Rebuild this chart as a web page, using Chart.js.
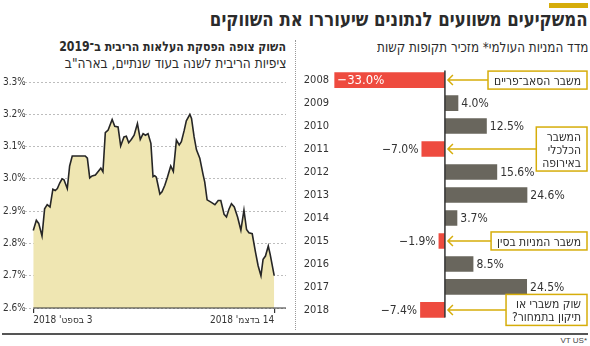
<!DOCTYPE html>
<html lang="he">
<head>
<meta charset="utf-8">
<script src="https://cdn.jsdelivr.net/npm/chart.js@4.4.1/dist/chart.umd.min.js"></script>
<style>
  body { margin:0; width:590px; height:346px; background:#fff; position:relative; overflow:hidden;
         font-family:"DejaVu Sans Condensed","Liberation Sans",sans-serif; color:#2b2b2b; }
  .abs { position:absolute; white-space:nowrap; }
  .rtl { direction:rtl; }
  #goldbar { left:549px; top:3px; width:39px; height:5px; background:#d6ad0a; }
  #title { right:2px; top:7px; font-size:20px; font-weight:bold; transform:scaleX(0.92); transform-origin:right center; }
  #subR { right:2px; top:39px; font-size:14px; transform:scaleX(0.95); transform-origin:right center; }
  #subL { right:304px; top:38px; font-size:13.5px; font-weight:bold; transform:scaleX(0.9); transform-origin:right center; }
  #subL2 { right:304px; top:55px; font-size:14px; transform:scaleX(0.97); transform-origin:right center; }
  #sep { left:295px; top:40px; height:290px; border-left:1px dotted #999; }
  #baseline { left:2px; top:333px; width:586px; height:2px; background:#555; }
  #src { right:3px; top:336px; font-size:8px; color:#444; font-family:"Liberation Sans",sans-serif; }
  #leftWrap { left:0; top:66px; width:292px; height:266px; }
  #rightWrap { left:298px; top:60px; width:292px; height:270px; }
  #lineChart { direction:rtl; }
</style>
</head>
<body>
<div id="goldbar" class="abs"></div>
<div id="title" class="abs rtl">המשקיעים משוועים לנתונים שיעוררו את השווקים</div>
<div id="subR" class="abs rtl">מדד המניות העולמי* מזכיר תקופות קשות</div>
<div id="subL" class="abs rtl">השוק צופה הפסקת העלאות הריבית ב־2019</div>
<div id="subL2" class="abs rtl">ציפיות הריבית לשנה בעוד שנתיים, בארה"ב</div>
<div id="sep" class="abs"></div>
<div id="leftWrap" class="abs"><canvas id="lineChart" width="292" height="266"></canvas></div>
<div id="rightWrap" class="abs"><canvas id="barChart" width="292" height="270"></canvas></div>
<div id="baseline" class="abs"></div>
<div id="src" class="abs">VT US*</div>

<script>
// ריבית צפויה - ימים מ-3 בספטמבר 2018
const rateDays = [0, 1.3, 2.3, 3.7, 4.8, 5.9, 7.1, 8.3, 9.3, 10.2, 11.2, 12.2, 13.0, 14.4, 15.4, 16.5,
  22.0, 22.9, 23.9, 24.9, 26.3, 27.4, 28.6, 29.5, 30.5, 31.7, 33.4, 34.5, 35.9, 37.0, 38.4, 39.4,
  40.4, 41.5, 42.7, 44.1, 45.3, 46.5, 47.5, 48.6, 49.8, 50.7, 51.4, 52.1, 53.6, 54.5, 55.7, 56.8,
  58.2, 59.3, 60.6, 61.8, 62.7, 63.9, 64.8, 66.3, 67.0, 68.1, 69.1, 70.5, 71.9, 72.6, 73.6, 75.4,
  76.9, 78.3, 79.4, 80.8, 81.8, 82.8, 83.9, 85.1, 86.5, 87.9, 89.2, 90.3, 91.3, 92.7, 94.1, 95.2,
  96.4, 97.3, 98.3, 99.5, 100.3, 102];
const rateValues = [2.84, 2.872, 2.862, 2.823, 2.907, 2.92, 2.913, 2.968, 2.964, 2.97, 2.987, 3.0, 2.997, 2.97, 3.04, 3.071,
  3.071, 3.064, 3.003, 3.009, 3.012, 3.022, 3.033, 3.022, 3.143, 3.151, 3.184, 3.163, 3.161, 3.102, 3.13, 3.132,
  3.112, 3.122, 3.135, 3.171, 3.122, 3.14, 3.135, 3.14, 3.11, 3.007, 3.01, 3.005, 2.953, 2.96, 2.98, 3.005,
  3.04, 3.023, 3.12, 3.105, 3.115, 3.15, 3.18, 3.2, 3.187, 3.13, 3.09, 3.064, 3.013, 2.99, 2.935, 2.927,
  2.92, 2.933, 2.933, 2.89, 2.882, 2.905, 2.923, 2.913, 2.882, 2.841, 2.903, 2.843, 2.833, 2.83, 2.772, 2.731,
  2.7, 2.751, 2.761, 2.792, 2.766, 2.7];
const xTickDays = [0, 102];
const xTickLabels = ["3 בספט' 2018", "14 בדצמ' 2018"];
const yTicks = [2.6, 2.7, 2.8, 2.9, 3.0, 3.1, 3.2, 3.3];

// מדד המניות העולמי - תשואה שנתית
const years = ['2008', '2009', '2010', '2011', '2012', '2013', '2014', '2015', '2016', '2017', '2018'];
const changes = [-33.0, 4.0, 12.5, -7.0, 15.6, 24.6, 3.7, -1.9, 8.5, 24.5, -7.4];
const noteYears = ['2008', '2011', '2015', '2018'];
const noteTexts = [['משבר הסאב־פריים'], ['המשבר', 'הכלכלי', 'באירופה'], ['משבר המניות בסין'], ['שוק משברי או', 'תיקון בתמחור?']];

const FONT = '"DejaVu Sans Condensed","Liberation Sans",sans-serif';
const GOLD = '#d6ad0a';

// קו ציר תחתון
const axisLine = {
  id: 'axisLine',
  afterDatasetsDraw(chart) {
    const {ctx, chartArea, scales} = chart;
    ctx.save();
    ctx.strokeStyle = '#333';
    ctx.lineWidth = 1.2;
    ctx.beginPath();
    ctx.moveTo(scales.x.getPixelForValue(xTickDays[0]), chartArea.bottom);
    ctx.lineTo(chartArea.right, chartArea.bottom);
    ctx.stroke();
    ctx.restore();
  }
};

new Chart(document.getElementById('lineChart'), {
  type: 'line',
  data: {
    datasets: [{
      data: rateDays.map((d, i) => ({x: d, y: rateValues[i]})),
      borderColor: '#262626',
      borderWidth: 1.6,
      backgroundColor: '#efe6b2',
      fill: 'start',
      pointRadius: 0,
      tension: 0
    }]
  },
  options: {
    responsive: false,
    animation: false,
    layout: {padding: {left: 3, right: 6, top: 16, bottom: 0}},
    plugins: {legend: {display: false}, tooltip: {enabled: false}},
    scales: {
      x: {
        type: 'linear',
        min: -3.5,
        max: 107,
        afterBuildTicks(s) { s.ticks = xTickDays.map(v => ({value: v})); },
        afterFit(s) { s.height = 24; },
        grid: {drawOnChartArea: false, drawTicks: true, tickLength: 5, color: '#333', lineWidth: 1.2},
        border: {display: false},
        ticks: {
          autoSkip: false, maxRotation: 0, align: 'inner', padding: 1,
          color: '#333', font: {family: FONT, size: 10},
          callback: v => xTickLabels[xTickDays.indexOf(v)]
        }
      },
      y: {
        min: 2.6,
        max: 3.3,
        afterBuildTicks(s) { s.ticks = yTicks.map(v => ({value: v})); },
        afterFit(s) { s.width = 22; },
        grid: {drawTicks: false, color: '#bdbdbd', lineWidth: 1},
        border: {display: false, dash: [2, 2]},
        ticks: {
          crossAlign: 'far', color: '#333', font: {family: FONT, size: 10},
          callback: v => v.toFixed(1) + '%'
        }
      }
    }
  },
  plugins: [axisLine]
});

// תוויות ערך, קו אפס והערות
const barExtras = {
  id: 'barExtras',
  afterDatasetsDraw(chart) {
    const {ctx, chartArea, scales} = chart;
    const x0 = scales.x.getPixelForValue(0);
    ctx.save();
    // קו אפס
    ctx.strokeStyle = '#333';
    ctx.lineWidth = 1.5;
    ctx.beginPath();
    ctx.moveTo(x0, chartArea.top + 2);
    ctx.lineTo(x0, chartArea.bottom - 4);
    ctx.stroke();

    // תוויות
    ctx.textBaseline = 'middle';
    const meta = chart.getDatasetMeta(0);
    meta.data.forEach((bar, i) => {
      const v = changes[i];
      const txt = (v < 0 ? '\u2212' : '') + Math.abs(v).toFixed(1) + '%';
      ctx.font = '12px ' + FONT;
      if (v >= 0) {
        ctx.fillStyle = '#333'; ctx.textAlign = 'left';
        ctx.fillText(txt, bar.x + 3, bar.y + 1);
      } else if (v < -20) {
        ctx.font = '13px ' + FONT;
        ctx.fillStyle = '#fff'; ctx.textAlign = 'left';
        ctx.fillText(txt, bar.x + 3, bar.y + 1);
      } else {
        ctx.fillStyle = '#333'; ctx.textAlign = 'right';
        ctx.fillText(txt, bar.x - 3, bar.y + 1);
      }
    });

    // הערות
    ctx.font = '12px ' + FONT;
    ctx.direction = 'rtl';
    const lh = 13;
    noteYears.forEach((yr, n) => {
      const lines = noteTexts[n];
      const y = scales.y.getPixelForValue(years.indexOf(yr));
      const w = Math.max(...lines.map(t => ctx.measureText(t).width)) + 12;
      const h = lines.length * lh + 5;
      const right = chart.width - 3;
      const left = right - w;
      const top = y - h / 2;
      ctx.fillStyle = '#fff';
      ctx.fillRect(left, top, w, h);
      ctx.strokeStyle = GOLD;
      ctx.lineWidth = 1.5;
      ctx.strokeRect(left, top, w, h);
      // חץ
      ctx.beginPath();
      ctx.moveTo(left, y);
      ctx.lineTo(x0 + 3, y);
      ctx.moveTo(x0 + 8, y - 5);
      ctx.lineTo(x0 + 3, y);
      ctx.lineTo(x0 + 8, y + 5);
      ctx.stroke();
      ctx.fillStyle = '#2b2b2b';
      ctx.textAlign = 'right';
      lines.forEach((t, k) => {
        ctx.fillText(t, right - 6, top + 3 + lh / 2 + k * lh + 1);
      });
    });
    ctx.restore();
  }
};

new Chart(document.getElementById('barChart'), {
  type: 'bar',
  data: {
    labels: years,
    datasets: [{
      data: changes,
      backgroundColor: changes.map(v => v < 0 ? '#ee4b3f' : '#69665d'),
      barPercentage: 0.68,
      categoryPercentage: 1
    }]
  },
  options: {
    indexAxis: 'y',
    responsive: false,
    animation: false,
    layout: {padding: {left: 0, right: 2, top: 5, bottom: 5}},
    plugins: {legend: {display: false}, tooltip: {enabled: false}},
    scales: {
      x: {display: false, min: -34, max: 42.7},
      y: {
        afterFit(s) { s.width = 33; },
        grid: {display: false, drawTicks: false},
        border: {display: false},
        ticks: {padding: 2, color: '#333', font: {family: FONT, size: 11}}
      }
    }
  },
  plugins: [barExtras]
});
</script>
</body>
</html>
